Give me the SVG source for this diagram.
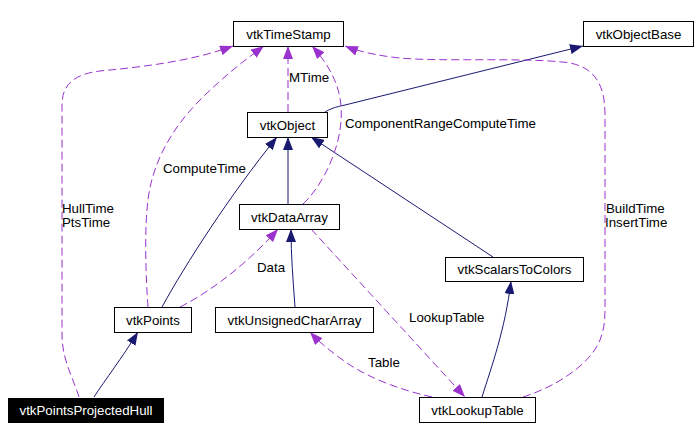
<svg xmlns="http://www.w3.org/2000/svg" width="700" height="430" viewBox="0 0 700 430">
<style>
text{font-family:"Liberation Sans",Arial,sans-serif;font-size:13.3px;fill:#000}
.box{fill:#fff;stroke:#000;stroke-width:1}
.dark{fill:#000;stroke:#000;stroke-width:1}
.n{text-anchor:middle}
.inh{fill:none;stroke:#191970;stroke-width:1;marker-end:url(#ah)}
.use{fill:none;stroke:#9a32cd;stroke-width:1;stroke-dasharray:8,4;marker-end:url(#ap)}
</style>
<defs>
<marker id="ah" viewBox="0 0 13 10" refX="13" refY="5" markerWidth="13" markerHeight="10" markerUnits="userSpaceOnUse" orient="auto"><path d="M0,0L13,5L0,10z" fill="#191970"/></marker>
<marker id="ap" viewBox="0 0 13 10" refX="13" refY="5" markerWidth="13" markerHeight="10" markerUnits="userSpaceOnUse" orient="auto"><path d="M0,0L13,5L0,10z" fill="#9a32cd"/></marker>
</defs>
<rect width="700" height="430" fill="#fff"/>
<g id="edges">
<path class="inh" d="M325,112C330,109 335,107 345,105L583,46"/>
<path class="inh" d="M288,204L288,137"/>
<path class="inh" d="M162,307C185,265 230,195 277,137"/>
<path class="inh" d="M493,257L311,137"/>
<path class="inh" d="M482,397C492,365 505,330 511,281"/>
<path class="inh" d="M295,307C293,280 291,255 291,229"/>
<path class="inh" d="M94,397C105,380 122,358 138,332"/>
<path class="use" d="M288,112L288,46"/>
<path class="use" d="M148,307C146,280 144,230 148,200C152,165 170,130 200,100C225,75 245,60 264,46"/>
<path class="use" d="M79,397C74,380 62,360 62,335L62,105C62,80 80,72 110,70C150,66 195,60 233,46"/>
<path class="use" d="M303,204C318,190 332,165 338,140C345,110 343,80 312,46"/>
<path class="use" d="M523,397C555,387 590,365 600,340C604,330 605,320 605,310L605,115C605,85 595,68 570,63C530,57 440,62 400,58C380,56 360,52 345,46"/>
<path class="use" d="M180,307C200,297 240,272 278,229"/>
<path class="use" d="M311,229L465,397"/>
<path class="use" d="M432,397C400,390 370,378 350,365C335,355 320,343 310,332"/>
<text x="289" y="82">MTime</text>
<text x="163" y="173">ComputeTime</text>
<text x="62" y="213">HullTime</text>
<text x="62" y="227">PtsTime</text>
<text x="345" y="128">ComponentRangeComputeTime</text>
<text x="606" y="213">BuildTime</text>
<text x="605" y="227">InsertTime</text>
<text x="257" y="272">Data</text>
<text x="409" y="322">LookupTable</text>
<text x="368" y="367">Table</text>
</g>
<g id="vtkTimeStamp"><rect class="box" x="233.5" y="21.5" width="110" height="25"/><text class="n" x="288.5" y="38.5">vtkTimeStamp</text></g>
<g id="vtkObjectBase"><rect class="box" x="583.5" y="21.5" width="110" height="25"/><text class="n" x="638.5" y="38.5">vtkObjectBase</text></g>
<g id="vtkObject"><rect class="box" x="247.5" y="112.5" width="80" height="25"/><text class="n" x="287.5" y="129.5">vtkObject</text></g>
<g id="vtkDataArray"><rect class="box" x="239.5" y="204.5" width="100" height="25"/><text class="n" x="289.5" y="221.5">vtkDataArray</text></g>
<g id="vtkPoints"><rect class="box" x="114.5" y="307.5" width="77" height="25"/><text class="n" x="153" y="324.5">vtkPoints</text></g>
<g id="vtkUnsignedCharArray"><rect class="box" x="215.5" y="307.5" width="158" height="25"/><text class="n" x="294.5" y="324.5">vtkUnsignedCharArray</text></g>
<g id="vtkScalarsToColors"><rect class="box" x="445.5" y="257.5" width="138" height="24"/><text class="n" x="514.5" y="274">vtkScalarsToColors</text></g>
<g id="vtkLookupTable"><rect class="box" x="419.5" y="397.5" width="116" height="25"/><text class="n" x="477.5" y="414.5">vtkLookupTable</text></g>
<g id="vtkPointsProjectedHull"><rect class="dark" x="8.5" y="398.5" width="155" height="24"/><text class="n" x="86" y="415" style="fill:#fff">vtkPointsProjectedHull</text></g>
</svg>
